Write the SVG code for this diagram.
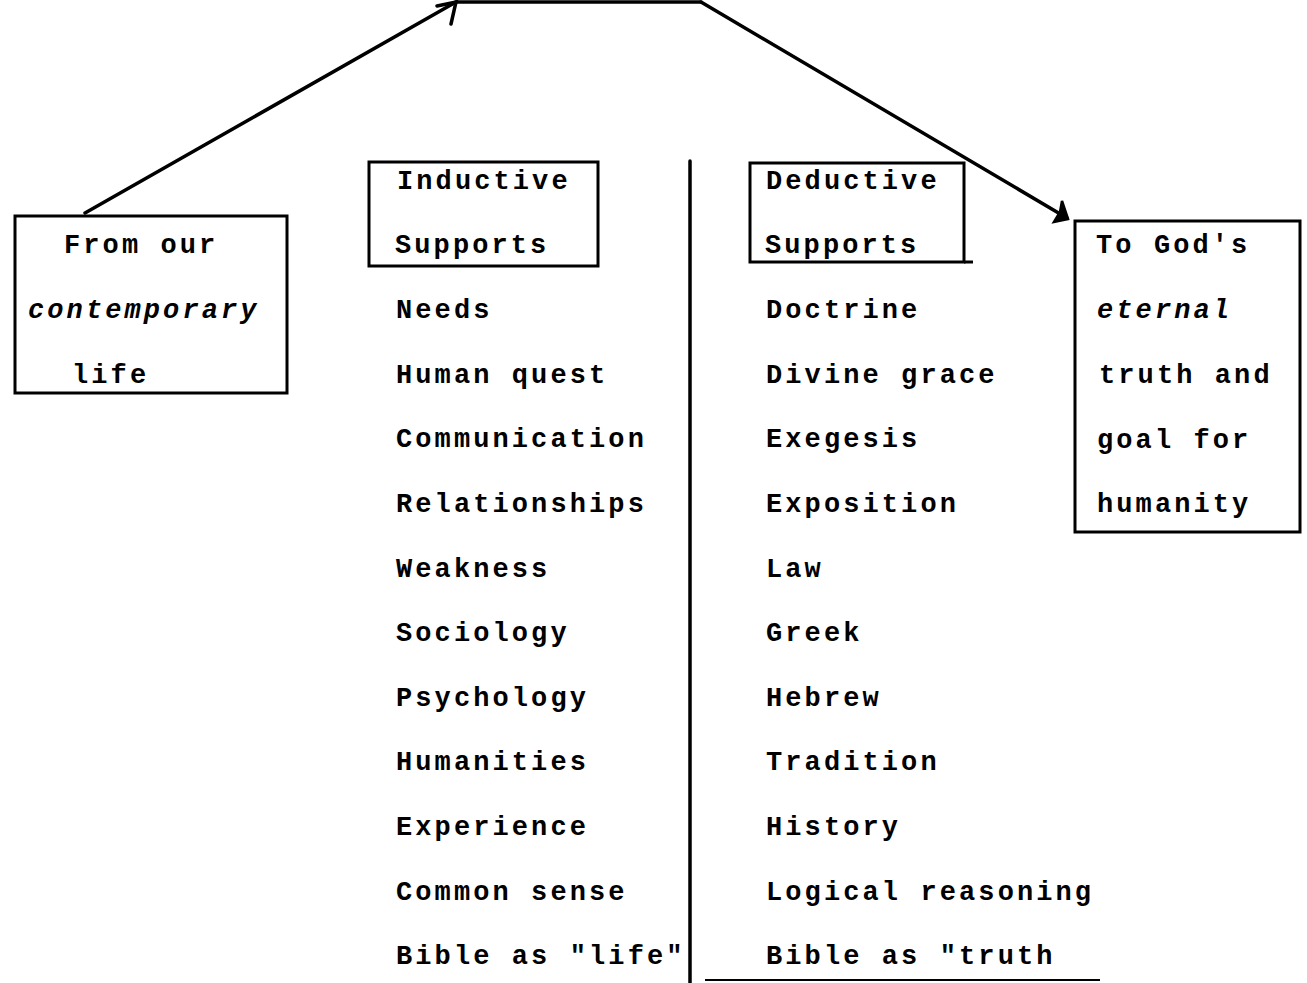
<svg xmlns="http://www.w3.org/2000/svg" width="1307" height="983" viewBox="0 0 1307 983">
<style>
  .t { font-family: "Liberation Mono", "DejaVu Sans Mono", monospace; font-size: 27px; font-weight: bold; letter-spacing: 3.1px; fill: #000; }
  .i { font-style: italic; }
  .box { fill: none; stroke: #000; stroke-width: 3; }
  .ln { fill: none; stroke: #000; stroke-width: 3.5; stroke-linecap: round; }
</style>
<rect width="1307" height="983" fill="#fff"/>
<g id="connectors">
  <line class="ln" x1="456" y1="2" x2="701" y2="2"/>
  <line class="ln" x1="85" y1="213" x2="456" y2="2"/>
  <path class="ln" d="M437 6 L456 2 L451 24"/>
  <line class="ln" x1="701" y1="2" x2="1067" y2="218"/>
  <path d="M1068 219 L1062 201 L1060 212 L1054 222 Z" fill="#000" stroke="#000" stroke-width="2.5"/>
  <line class="ln" x1="690" y1="161" x2="690" y2="983"/>
  <line x1="705" y1="980" x2="1100" y2="980" stroke="#000" stroke-width="2"/>
</g>
<g id="from-box">
  <rect class="box" x="15" y="216" width="272" height="177"/>
  <text class="t" x="64" y="253">From our</text>
  <text class="t i" x="28" y="318">contemporary</text>
  <text class="t" x="72" y="383">life</text>
</g>
<g id="inductive-box">
  <rect class="box" x="369" y="162" width="229" height="104"/>
  <text class="t" x="397" y="189">Inductive</text>
  <text class="t" x="395" y="253">Supports</text>
</g>
<g id="deductive-box">
  <rect class="box" x="750" y="163" width="214" height="99"/>
  <line class="box" x1="964" y1="262" x2="973" y2="262"/>
  <text class="t" x="766" y="189">Deductive</text>
  <text class="t" x="765" y="253">Supports</text>
</g>
<g id="god-box">
  <rect class="box" x="1075" y="221" width="225" height="311"/>
  <text class="t" x="1096" y="253">To God's</text>
  <text class="t i" x="1097" y="318">eternal</text>
  <text class="t" x="1099" y="383">truth and</text>
  <text class="t" x="1097" y="448">goal for</text>
  <text class="t" x="1097" y="512">humanity</text>
</g>
<g id="inductive-list">
  <text class="t" x="396" y="318">Needs</text>
  <text class="t" x="396" y="383">Human quest</text>
  <text class="t" x="396" y="447">Communication</text>
  <text class="t" x="396" y="512">Relationships</text>
  <text class="t" x="396" y="577">Weakness</text>
  <text class="t" x="396" y="641">Sociology</text>
  <text class="t" x="396" y="706">Psychology</text>
  <text class="t" x="396" y="770">Humanities</text>
  <text class="t" x="396" y="835">Experience</text>
  <text class="t" x="396" y="900">Common sense</text>
  <text class="t" x="396" y="964">Bible as "life"</text>
</g>
<g id="deductive-list">
  <text class="t" x="766" y="318">Doctrine</text>
  <text class="t" x="766" y="383">Divine grace</text>
  <text class="t" x="766" y="447">Exegesis</text>
  <text class="t" x="766" y="512">Exposition</text>
  <text class="t" x="766" y="577">Law</text>
  <text class="t" x="766" y="641">Greek</text>
  <text class="t" x="766" y="706">Hebrew</text>
  <text class="t" x="766" y="770">Tradition</text>
  <text class="t" x="766" y="835">History</text>
  <text class="t" x="766" y="900">Logical reasoning</text>
  <text class="t" x="766" y="964">Bible as "truth</text>
</g>
</svg>
